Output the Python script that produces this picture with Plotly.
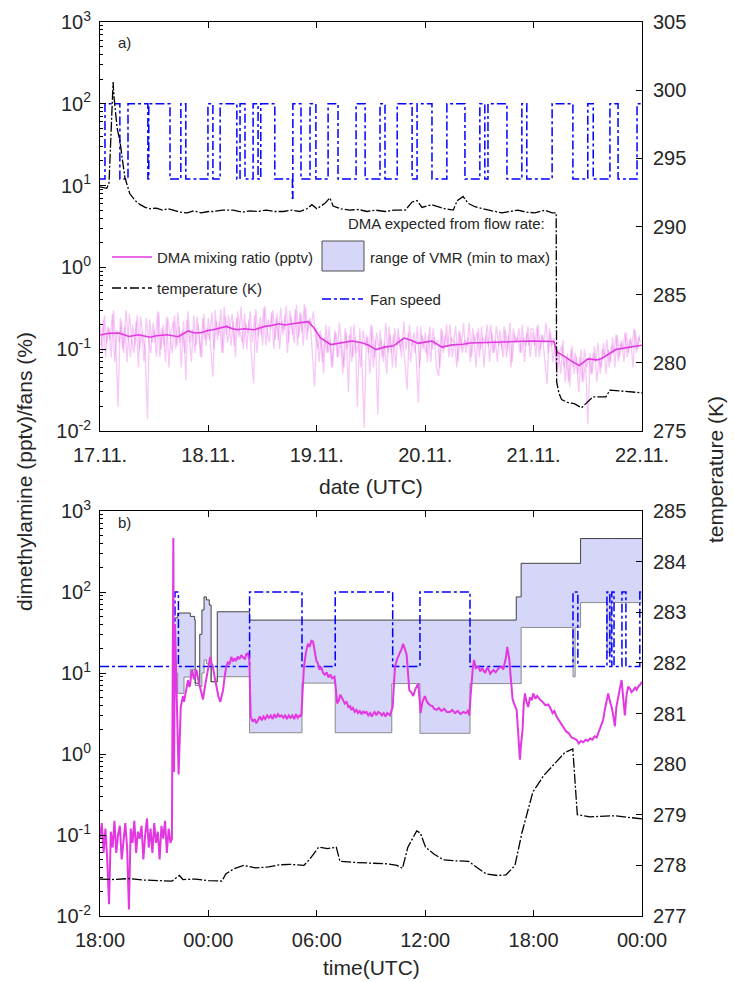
import plotly.graph_objects as go
import pandas as pd

# ---------------- DATA ----------------
# Panel a: 17.11. - 22.11. (hours since 17.11. 00:00)
raw_a_start_h = 0.0
raw_a_step_h = 0.5
raw_a_pptv = [
    0.21,0.09,0.26,0.12,0.18,0.08,0.30,0.11,0.02,0.24,0.10,0.19,0.07,0.27,0.13,0.09,0.22,0.06,0.25,0.14,
    0.10,0.014,0.23,0.12,0.17,0.08,0.28,0.10,0.20,0.07,0.24,0.15,0.09,0.26,0.11,0.19,0.06,0.22,0.042,0.29,
    0.12,0.17,0.09,0.25,0.13,0.08,0.27,0.11,
    0.24,0.10,0.046,0.30,0.13,0.21,0.09,0.33,0.15,0.26,0.11,0.22,0.08,0.29,0.16,0.12,0.27,0.10,0.23,0.09,
    0.038,0.31,0.14,0.25,0.11,0.34,0.17,0.12,0.28,0.10,0.24,0.13,0.32,0.15,0.26,0.09,0.30,0.18,0.12,0.35,
    0.14,0.27,0.11,0.33,0.16,0.24,0.10,0.035,
    0.18,0.07,0.15,0.05,0.20,0.09,0.13,0.06,0.17,0.08,0.21,0.10,0.06,0.16,0.03,0.19,0.08,0.14,0.02,0.18,
    0.07,0.011,0.15,0.09,0.20,0.06,0.13,0.016,0.17,0.08,0.12,0.05,0.19,0.09,0.15,0.06,0.18,0.10,0.14,0.07,
    0.032,0.20,0.11,0.16,0.08,0.022,0.19,0.10,
    0.16,0.07,0.19,0.10,0.14,0.06,0.047,0.18,0.09,0.15,0.11,0.20,0.08,0.13,0.06,0.17,0.10,0.21,0.09,0.14,
    0.07,0.18,0.12,0.16,0.08,0.19,0.06,0.15,0.11,0.20,0.09,0.13,0.07,0.17,0.10,0.19,0.08,0.15,0.06,0.18,
    0.12,0.14,0.09,0.20,0.07,0.16,0.11,0.18,
    0.17,0.08,0.20,0.10,0.15,0.07,0.038,0.18,0.11,0.14,0.06,0.10,0.05,0.13,0.04,0.09,0.035,0.11,0.05,0.08,
    0.03,0.10,0.04,0.07,0.012,0.09,0.05,0.11,0.04,0.08,0.06,0.12,0.05,0.10,0.07,0.14,0.06,0.15,0.08,0.13,
    0.07,0.16,0.09,0.14,0.06,0.17,0.10,0.15,
]
# second interleaved raw sample set (offset by a quarter hour)
raw_a2_start_h = 0.25
raw_a2_pptv = [
    0.11,0.23,0.08,0.19,0.13,0.27,0.07,0.17,0.12,0.22,0.09,0.30,0.14,0.08,0.20,0.11,0.26,0.10,0.16,0.07,
    0.24,0.13,0.09,0.21,0.12,0.29,0.08,0.18,0.11,0.25,0.06,0.16,0.22,0.10,0.28,0.12,0.17,0.09,0.23,0.14,
    0.07,0.26,0.11,0.20,0.08,0.24,0.13,0.18,
    0.13,0.28,0.10,0.22,0.15,0.31,0.09,0.25,0.12,0.19,0.27,0.11,0.24,0.14,0.33,0.10,0.21,0.16,0.29,0.12,
    0.26,0.09,0.20,0.15,0.32,0.11,0.23,0.18,0.30,0.13,0.27,0.10,0.22,0.17,0.34,0.12,0.25,0.15,0.31,0.11,
    0.28,0.16,0.36,0.13,0.23,0.19,0.29,0.14,
    0.10,0.17,0.07,0.14,0.09,0.19,0.06,0.12,0.16,0.08,0.13,0.05,0.18,0.10,0.15,0.07,0.20,0.09,0.12,0.06,
    0.17,0.11,0.14,0.05,0.19,0.08,0.16,0.10,0.13,0.07,0.21,0.09,0.15,0.06,0.18,0.11,0.14,0.08,0.22,0.10,
    0.16,0.07,0.13,0.09,0.19,0.06,0.15,0.11,
    0.09,0.15,0.07,0.18,0.11,0.13,0.06,0.17,0.10,0.20,0.08,0.14,0.12,0.19,0.07,0.16,0.09,0.13,0.11,0.21,
    0.08,0.15,0.06,0.18,0.10,0.14,0.12,0.20,0.07,0.16,0.09,0.19,0.11,0.13,0.08,0.17,0.10,0.21,0.07,0.15,
    0.12,0.18,0.09,0.14,0.11,0.19,0.08,0.16,
    0.11,0.19,0.08,0.15,0.12,0.21,0.09,0.16,0.07,0.12,0.05,0.09,0.11,0.06,0.08,0.04,0.10,0.06,0.09,0.05,
    0.08,0.04,0.10,0.06,0.08,0.05,0.09,0.07,0.12,0.05,0.10,0.08,0.13,0.06,0.11,0.09,0.15,0.07,0.12,0.10,
    0.16,0.08,0.13,0.11,0.18,0.09,0.14,0.12,
]

smooth_a_hours = [0.0, 0.33, 2.0, 4.2, 6.4, 8.5, 11.1, 12.5, 14.9, 16.0,
                  17.3, 19.5, 21.0, 22.6, 24.0, 25.0, 26.5, 28.0, 29.0, 30.3,
                  32.0, 34.1, 36.5, 38.0, 39.6, 41.0, 42.6, 44.5, 46.1, 47.3,
                  48.8, 51.1, 53.4, 55.8, 58.0, 59.5, 61.1, 63.0, 65.0, 67.3,
                  69.0, 70.4, 72.0, 73.5, 75.7, 78.0, 80.4, 82.0, 84.1, 88.0,
                  91.9, 95.5, 99.6, 100.5, 101.2, 102.5, 104.3, 106.1, 108.0, 110.0,
                  111.1, 112.5, 114.2, 117.3, 120.0]
smooth_a_pptv = [0.15, 0.15, 0.157, 0.158, 0.143, 0.15, 0.14, 0.146, 0.15, 0.146,
                 0.142, 0.167, 0.158, 0.16, 0.17, 0.173, 0.182, 0.19, 0.181, 0.173,
                 0.178, 0.173, 0.19, 0.195, 0.205, 0.198, 0.205, 0.21, 0.217, 0.184,
                 0.137, 0.114, 0.12, 0.126, 0.12, 0.112, 0.099, 0.106, 0.11, 0.137,
                 0.128, 0.118, 0.122, 0.126, 0.106, 0.113, 0.115, 0.119, 0.12, 0.121,
                 0.124, 0.126, 0.124, 0.124, 0.092, 0.084, 0.072, 0.063, 0.076, 0.074,
                 0.077, 0.086, 0.099, 0.106, 0.112]

fan_a_hours = [0.0, 1.1, 4.4, 6.2, 10.6, 10.8, 15.5, 17.9, 19.0, 23.9,
               25.0, 26.6, 30.3, 31.0, 32.1, 33.9, 35.0, 35.6, 38.7, 42.6,
               42.7, 44.5, 46.5, 47.8, 50.5, 52.7, 56.7, 58.7, 62.0, 63.1,
               65.8, 69.1, 70.2, 73.5, 76.8, 80.8, 84.1, 85.2, 85.9, 90.1,
               93.4, 94.5, 100.1, 104.7, 108.0, 109.2, 112.9, 114.7, 118.9, 120.0]
fan_a_pct = [12, 100, 12, 100, 12, 100, 12, 100, 12, 100,
             12, 100, 12, 100, 12, 100, 12, 100, 12, 7,
             100, 12, 100, 12, 100, 12, 100, 12, 100, 12,
             100, 12, 100, 12, 100, 12, 100, 12, 100, 12,
             100, 12, 100, 12, 100, 12, 100, 12, 100, 100]

temp_a_hours = [0.0, 1.5, 2.0, 2.4, 2.7, 2.9, 3.1, 3.8, 4.4, 5.5,
                6.6, 7.8, 8.9, 10.0, 11.1, 12.5, 13.8, 15.0, 16.2, 17.6,
                19.3, 20.8, 22.4, 24.0, 25.0, 27.2, 29.5, 31.5, 33.2, 34.9,
                36.8, 38.7, 40.6, 42.5, 44.2, 45.8, 46.9, 48.0, 49.8, 50.9,
                51.6, 53.4, 55.3, 57.2, 59.1, 61.0, 63.1, 65.2, 67.6, 69.1,
                70.2, 71.3, 73.5, 75.2, 76.4, 78.2, 79.1, 80.4, 81.5, 83.0,
                84.6, 86.8, 89.0, 90.8, 92.5, 94.4, 96.3, 98.5, 100.1, 101.0,
                101.1, 101.6, 102.2, 103.5, 105.0, 106.6, 107.5, 109.1, 110.5, 112.0,
                112.9, 114.5, 116.0, 118.0, 120.0]
temp_a_K = [292.9, 292.8, 293.2, 296.0, 299.0, 300.6, 299.5, 297.2, 296.3, 293.6,
            292.4, 291.9, 291.6, 291.4, 291.3, 291.35, 291.2, 291.3, 291.2, 291.05,
            291.0, 291.15, 291.0, 291.1, 291.1, 291.2, 291.2, 291.05, 291.15, 291.1,
            291.2, 291.1, 291.1, 291.2, 291.1, 291.3, 291.6, 291.3, 291.7, 292.1,
            291.5, 291.3, 291.2, 291.25, 291.1, 291.2, 291.1, 291.2, 291.2, 291.8,
            291.9, 291.4, 291.6, 291.4, 291.3, 291.2, 291.9, 292.2, 291.7, 291.45,
            291.3, 291.15, 291.0, 291.1, 291.2, 291.05, 291.0, 291.2, 291.0, 291.0,
            278.6, 277.8, 277.3, 277.1, 277.0, 276.7, 277.0, 277.5, 277.5, 277.5,
            278.0, 277.95, 277.9, 277.85, 277.8]

# Panel b: 30 h window starting 18:00 (hours since start)
dma_b_hours = [
    0.0,0.1,0.2,0.3,0.4,0.5,0.6,0.7,0.8,0.9,
    1.0,1.1,1.2,1.3,1.4,1.5,1.6,1.7,1.8,1.9,
    2.0,2.1,2.2,2.3,2.4,2.5,2.6,2.7,2.8,2.9,
    3.0,3.1,3.2,3.3,3.4,3.5,3.6,3.7,3.8,3.9,
    3.98,4.06,4.10,4.15,4.25,4.35,4.47,4.53,4.59,4.65,
    4.72,4.80,4.87,4.93,4.98,5.05,5.11,5.19,5.27,5.32,
    5.37,5.45,5.52,5.61,5.70,5.79,5.88,5.97,6.03,6.10,
    6.18,6.25,6.35,6.44,6.55,6.66,6.74,6.81,6.90,6.99,
    7.08,7.17,7.27,7.36,7.45,7.53,7.62,7.72,7.82,7.92,
    8.02,8.10,8.19,8.27,8.34,8.45,8.56,8.65,8.74,8.85,
    8.95,9.05,9.15,9.25,9.35,9.45,9.55,9.65,9.75,9.85,
    9.95,10.05,10.15,10.25,10.35,10.45,10.55,10.65,10.75,10.85,
    10.95,11.05,11.14,11.22,11.29,11.40,11.51,11.60,11.70,11.79,
    11.90,11.98,12.06,12.15,12.25,12.35,12.44,12.55,12.65,12.75,
    12.85,12.98,13.05,13.13,13.22,13.30,13.38,13.45,13.55,13.65,
    13.75,13.85,13.91,14.00,14.10,14.20,14.28,14.38,14.48,14.58,
    14.65,14.75,14.85,14.95,15.05,15.11,15.20,15.30,15.40,15.50,
    15.60,15.70,15.80,15.90,16.05,16.15,16.20,16.28,16.33,16.45,
    16.60,16.70,16.78,16.88,16.97,17.05,17.12,17.22,17.34,17.45,
    17.55,17.61,17.70,17.74,17.85,17.98,18.10,18.26,18.40,18.50,
    18.63,18.75,18.90,19.05,19.20,19.37,19.50,19.65,19.80,19.95,
    20.11,20.25,20.35,20.44,20.52,20.57,20.63,20.70,20.80,20.94,
    21.05,21.15,21.31,21.45,21.60,21.77,21.90,22.05,22.23,22.32,
    22.41,22.48,22.54,22.60,22.65,22.75,22.84,22.95,23.06,23.15,
    23.24,23.30,23.39,23.45,23.52,23.60,23.70,23.80,23.90,23.98,
    24.10,24.20,24.35,24.50,24.65,24.80,24.90,25.05,25.15,25.27,
    25.40,25.52,25.64,25.80,25.95,26.10,26.25,26.38,26.50,26.62,
    26.75,26.88,27.00,27.12,27.25,27.38,27.49,27.60,27.75,27.85,
    27.95,28.05,28.13,28.22,28.32,28.42,28.50,28.58,28.68,28.78,
    28.87,28.95,29.05,29.15,29.24,29.35,29.42,29.51,29.62,29.70,
    29.79,29.90,30.00]
dma_b_pptv = [
    0.09,0.14,0.06,0.12,0.05,0.014,0.11,0.07,0.15,0.06,
    0.10,0.13,0.05,0.09,0.14,0.07,0.012,0.12,0.08,0.15,
    0.06,0.11,0.09,0.13,0.05,0.10,0.16,0.07,0.12,0.06,
    0.14,0.08,0.11,0.05,0.13,0.09,0.15,0.06,0.12,0.08,
    0.09,465,0.6,40,3.0,0.56,3.8,4.6,5.2,4.4,
    5.6,7.0,8.2,6.8,7.0,9.5,10.9,8.4,9.0,11.0,
    10.2,8.0,6.8,5.4,4.7,6.4,8.2,11.0,13.5,15.8,
    13.0,12.0,8.8,6.8,5.2,4.4,5.5,6.1,9.0,12.0,
    13.5,12.8,15.8,13.9,15.2,14.0,16.0,14.8,16.6,15.4,
    15.0,17.2,17.5,14.0,2.9,2.5,2.7,2.4,2.6,2.9,
    2.6,2.9,2.7,3.0,2.8,3.0,2.7,3.1,2.8,3.1,
    2.9,3.0,2.8,3.0,2.7,3.0,2.8,3.0,2.7,3.1,
    2.8,3.0,2.9,7.0,12.0,18.0,23.0,21.0,25.0,24.5,
    18.0,14.0,13.2,11.0,11.8,10.0,9.5,10.2,8.8,9.6,
    8.6,9.0,6.5,4.2,4.6,5.4,5.0,4.7,4.2,4.4,
    3.8,3.9,3.5,3.7,3.3,3.5,3.2,3.4,3.1,3.4,
    3.2,3.3,3.0,3.2,2.9,3.1,3.3,3.0,3.3,3.2,
    3.0,3.2,2.9,3.2,3.0,3.5,3.8,8.0,12.0,15.0,
    17.5,20.0,23.0,19.0,17.0,10.0,6.1,5.8,5.2,6.3,
    7.0,7.4,4.5,3.2,4.4,5.2,4.4,4.0,3.9,3.6,
    3.5,3.7,3.4,3.6,3.3,3.3,3.5,3.2,3.4,3.1,
    3.3,3.2,3.4,3.0,5.5,8.2,11.0,14.5,11.5,12.0,
    10.5,11.5,10.0,11.8,9.8,10.9,10.2,11.4,12.0,11.0,
    13.2,16.0,21.0,17.0,15.0,8.0,4.7,4.0,3.5,1.8,
    0.85,1.3,2.0,4.0,5.6,4.5,3.8,5.0,4.6,5.6,
    4.8,5.2,4.7,4.4,4.0,4.1,3.8,3.2,3.4,2.9,
    2.6,2.4,2.2,1.9,1.8,1.6,1.55,1.5,1.35,1.45,
    1.4,1.5,1.45,1.55,1.5,1.65,1.6,1.9,2.3,2.65,
    3.6,4.4,5.6,4.5,3.8,2.9,2.2,3.8,5.2,6.5,
    8.2,5.0,3.0,5.5,6.8,6.3,5.8,6.1,6.6,6.2,
    6.8,7.2,7.8]

band_b_hours = [4.15, 4.30, 4.65, 5.00, 5.24, 5.27, 5.52, 5.64, 5.76, 5.89,
                6.05, 6.15, 6.49, 8.28, 11.18, 13.02, 16.15, 17.71, 20.48, 23.04,
                23.31, 26.18, 26.30, 26.60, 28.06, 28.30, 30.0]
band_b_max = [48, 55, 55, 50, 45, 7.5, 30, 60, 87, 80,
              69, 7.8, 57, 45, 45, 45, 45, 45, 45, 87,
              226, 226, 226, 457, 457, 457, 457]
band_b_min = [10, 5.6, 8.9, 11, 11, 7.0, 6.8, 10, 14.5, 13,
              12, 7.8, 9, 1.83, 7.5, 1.83, 7.4, 1.8, 7.4, 7.4,
              36.5, 9, 36.5, 74, 18, 74, 74]

fan_b_hours = [0.0, 4.15, 4.34, 8.28, 11.18, 13.02, 16.2, 17.71, 20.48, 26.18,
               26.45, 28.06, 28.22, 28.33, 28.45, 28.89, 29.11, 29.88, 30.0]
fan_b_pct = [12, 100, 12, 100, 12, 100, 12, 100, 12, 100,
             12, 100, 12, 100, 12, 100, 12, 100, 100]

temp_b_hours = [0.0, 0.8, 1.6, 2.4, 3.2, 3.98, 4.39, 4.59, 5.3, 6.0,
                6.75, 6.96, 7.4, 7.95, 8.6, 9.33, 9.9, 10.51, 11.29, 11.6,
                12.10, 12.6, 13.08, 13.28, 14.0, 14.6, 15.26, 15.9, 16.44, 16.74,
                17.04, 17.53, 17.73, 18.02, 18.5, 19.01, 19.7, 20.40, 20.9, 21.38,
                22.0, 22.47, 22.97, 23.35, 23.96, 24.55, 25.14, 25.73, 26.17, 26.42,
                27.12, 27.8, 28.50, 29.2, 30.0]
temp_b_K = [277.73, 277.72, 277.74, 277.71, 277.70, 277.69, 277.80, 277.72, 277.73, 277.70,
            277.69, 277.83, 277.93, 278.00, 277.95, 277.97, 278.01, 278.02, 278.00, 278.12,
            278.36, 278.33, 278.36, 278.08, 278.06, 278.05, 278.04, 278.03, 278.00, 277.94,
            278.36, 278.68, 278.64, 278.36, 278.22, 278.11, 278.09, 278.08, 277.95, 277.83,
            277.80, 277.81, 278.00, 278.64, 279.45, 279.77, 280.00, 280.23, 280.30, 279.00,
            278.96, 278.97, 278.98, 278.95, 278.92]

log_tick_vals = [0.01, 0.1, 1, 10, 100, 1000]
log_tick_text = ['10<sup>-2</sup>', '10<sup>-1</sup>', '10<sup>0</sup>',
                 '10<sup>1</sup>', '10<sup>2</sup>', '10<sup>3</sup>']

for a, b, n in [(dma_b_hours, dma_b_pptv, 'dma_b'), (band_b_hours, band_b_max, 'bmax'),
                (band_b_hours, band_b_min, 'bmin'), (fan_b_hours, fan_b_pct, 'fan_b'),
                (temp_b_hours, temp_b_K, 'temp_b'), (temp_a_hours, temp_a_K, 'temp_a'),
                (fan_a_hours, fan_a_pct, 'fan_a'), (smooth_a_hours, smooth_a_pptv, 'sm_a')]:
    assert len(a) == len(b), (n, len(a), len(b))

# ---------------- FIGURE ----------------
W, H = 734, 982
def px(x): return x / W
def py(y): return 1 - y / H

base_a = pd.Timestamp('2017-11-17 00:00')
base_b = pd.Timestamp('2017-11-22 18:00')
def to_time(base, hours):
    return [base + pd.Timedelta(hours=float(h)) for h in hours]

raw_a_hours = [raw_a_start_h + i * raw_a_step_h for i in range(len(raw_a_pptv))]
raw_a2_hours = [raw_a2_start_h + i * raw_a_step_h for i in range(len(raw_a2_pptv))]

MAG = '#E238E2'
BLUE = '#0000FF'
FONT = 'Liberation Sans, Arial, sans-serif'
TXT = '#262626'
RAW = 'rgba(232,100,232,0.36)'

fig = go.Figure()
# panel a
for hh, vv in [(raw_a_hours, raw_a_pptv), (raw_a2_hours, raw_a2_pptv)]:
    fig.add_trace(go.Scatter(x=to_time(base_a, hh), y=vv, mode='lines',
                             line=dict(color=RAW, width=1.3),
                             xaxis='x', yaxis='y', showlegend=False))
fig.add_trace(go.Scatter(x=to_time(base_a, smooth_a_hours), y=smooth_a_pptv, mode='lines',
                         line=dict(color=MAG, width=1.6), xaxis='x', yaxis='y', showlegend=False))
fig.add_trace(go.Scatter(x=to_time(base_a, fan_a_hours), y=fan_a_pct, mode='lines',
                         line=dict(color=BLUE, width=1.5, dash='dashdot', shape='hv'),
                         xaxis='x', yaxis='y', showlegend=False))
fig.add_trace(go.Scatter(x=to_time(base_a, temp_a_hours), y=temp_a_K, mode='lines',
                         line=dict(color='black', width=1.3, dash='10px,2px,2px,2px'),
                         xaxis='x', yaxis='y2', showlegend=False))
# panel b
fig.add_trace(go.Scatter(x=to_time(base_b, band_b_hours), y=band_b_min, mode='lines',
                         line=dict(color='#808080', width=0.9, shape='hv'),
                         xaxis='x2', yaxis='y3', showlegend=False))
fig.add_trace(go.Scatter(x=to_time(base_b, band_b_hours), y=band_b_max, mode='lines',
                         line=dict(color='#303030', width=0.9, shape='hv'),
                         fill='tonexty', fillcolor='rgb(214,214,249)',
                         xaxis='x2', yaxis='y3', showlegend=False))
fig.add_trace(go.Scatter(x=to_time(base_b, fan_b_hours), y=fan_b_pct, mode='lines',
                         line=dict(color=BLUE, width=1.5, dash='dashdot', shape='hv'),
                         xaxis='x2', yaxis='y3', showlegend=False))
fig.add_trace(go.Scatter(x=to_time(base_b, dma_b_hours), y=dma_b_pptv, mode='lines',
                         line=dict(color=MAG, width=2.0), xaxis='x2', yaxis='y3', showlegend=False))
fig.add_trace(go.Scatter(x=to_time(base_b, temp_b_hours), y=temp_b_K, mode='lines',
                         line=dict(color='black', width=1.3, dash='10px,2px,2px,2px'),
                         xaxis='x2', yaxis='y4', showlegend=False))

xdom = [px(100), px(642)]
ya_dom = [py(431), py(22)]
yb_dom = [py(916), py(511)]
minor_vals = [m * 10.0 ** e for e in range(-2, 3) for m in range(2, 10)]

common_ax = dict(showline=True, linecolor='black', linewidth=1, ticks='inside', ticklen=6,
                 tickcolor='black', showgrid=False, zeroline=False,
                 tickfont=dict(family=FONT, size=20, color=TXT), automargin=False)
log_ax = dict(common_ax, type='log', range=[-2, 3], tickmode='array', tickvals=log_tick_vals,
              ticktext=log_tick_text, ticklabelstandoff=4,
              minor=dict(tickmode='array', tickvals=minor_vals, ticks='inside', ticklen=3,
                         tickcolor='black', showgrid=False))

fig.update_layout(
    width=W, height=H, autosize=False,
    margin=dict(l=0, r=0, t=0, b=0),
    paper_bgcolor='white', plot_bgcolor='white',
    showlegend=False,
    font=dict(family=FONT, color=TXT),
    xaxis=dict(common_ax, domain=xdom, anchor='y', type='date',
               range=[base_a, base_a + pd.Timedelta(days=5)],
               tickmode='linear', tick0=base_a, dtick=86400000, tickformat='%d.%m.',
               mirror='ticks', ticklabelstandoff=6),
    yaxis=dict(log_ax, domain=ya_dom, anchor='x'),
    yaxis2=dict(common_ax, overlaying='y', side='right', anchor='x', range=[275, 305],
                tickmode='linear', tick0=275, dtick=5, ticklabelstandoff=6),
    xaxis2=dict(common_ax, domain=xdom, anchor='y3', type='date',
                range=[base_b, base_b + pd.Timedelta(hours=30)],
                tickmode='linear', tick0=base_b, dtick=6 * 3600000, tickformat='%H:%M',
                mirror='ticks', ticklabelstandoff=6),
    yaxis3=dict(log_ax, domain=yb_dom, anchor='x2'),
    yaxis4=dict(common_ax, overlaying='y3', side='right', anchor='x2', range=[277, 285],
                tickmode='linear', tick0=277, dtick=1, ticklabelstandoff=6),
)

ann = []
def text(x, y, s, size=15, xanchor='left', angle=0):
    ann.append(dict(x=px(x), y=py(y), xref='paper', yref='paper', text=s, showarrow=False,
                    xanchor=xanchor, yanchor='middle', textangle=angle,
                    font=dict(family=FONT, size=size, color=TXT)))

text(116, 42, 'a)', 15)
text(116, 522, 'b)', 15)
text(371, 487, 'date (UTC)', 21, 'center')
text(371, 967, 'time(UTC)', 21, 'center')
text(24, 472, 'dimethylamine (pptv)/fans (%)', 21, 'center', -90)
text(716, 470, 'temperature (K)', 21, 'center', -90)
# legend texts
text(547, 223, 'DMA expected from flow rate:', 15, 'right')
text(155, 257, 'DMA mixing ratio (pptv)', 15)
text(368, 257, 'range of VMR (min to max)', 15)
text(155, 288, 'temperature (K)', 15)
text(368, 299, 'Fan speed', 15)
fig.update_layout(annotations=ann)

shapes = [
    dict(type='line', xref='paper', yref='paper', x0=px(112), x1=px(152), y0=py(257), y1=py(257),
         line=dict(color=MAG, width=1.6)),
    dict(type='rect', xref='paper', yref='paper', x0=px(322), x1=px(364), y0=py(271), y1=py(241),
         line=dict(color='#505050', width=1), fillcolor='rgb(214,214,249)'),
    dict(type='line', xref='paper', yref='paper', x0=px(112), x1=px(152), y0=py(288), y1=py(288),
         line=dict(color='black', width=1.3, dash='dashdot')),
    dict(type='line', xref='paper', yref='paper', x0=px(322), x1=px(363), y0=py(299), y1=py(299),
         line=dict(color=BLUE, width=1.5, dash='dashdot')),
]
fig.update_layout(shapes=shapes)

fig.write_html('out.html')
